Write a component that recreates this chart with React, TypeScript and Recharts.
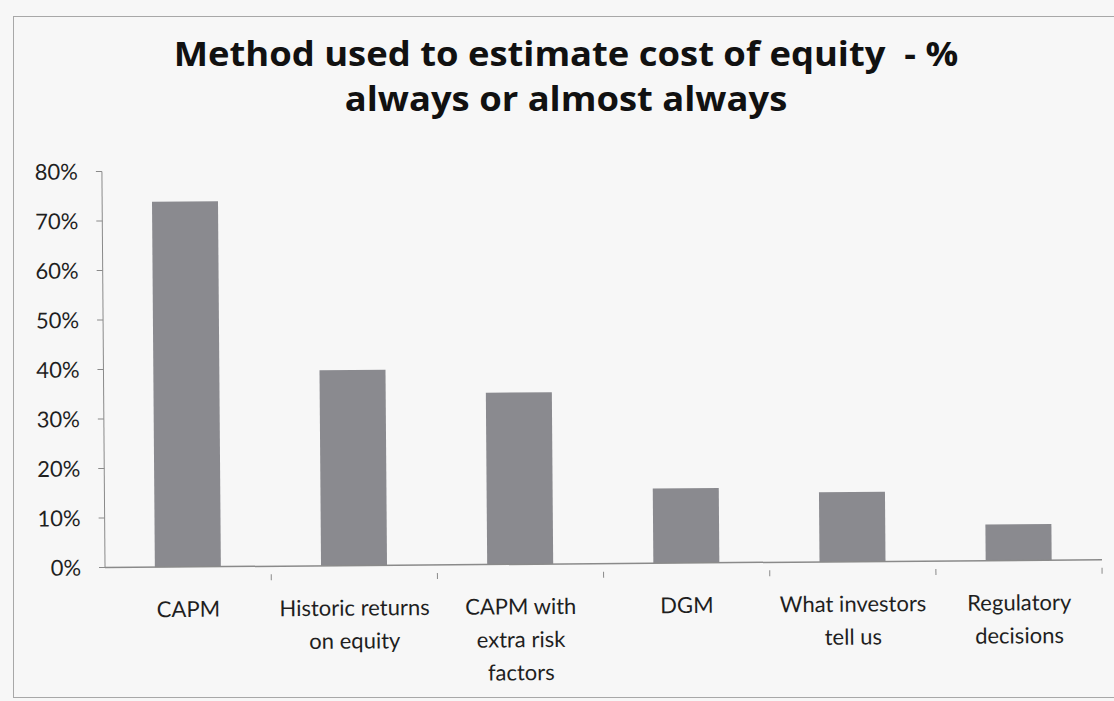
import { BarChart, Bar, XAxis, YAxis } from "recharts";

const INK = "#1f1f1f";
const AXIS_GRAY = "#8a8a8a";
const BAR_GRAY = "#8a8a8f";
const FONT = "Lato, 'Open Sans', sans-serif";

const methods = [
  "CAPM",
  "Historic returns\non equity",
  "CAPM with\nextra risk\nfactors",
  "DGM",
  "What investors\ntell us",
  "Regulatory\ndecisions",
];
const shareAlways = [73.8, 39.5, 34.7, 15.1, 14.1, 7.3];
const yTicks = [0, 10, 20, 30, 40, 50, 60, 70, 80];

const data = methods.map((m, i) => ({ method: m, value: shareAlways[i] }));

function CategoryTick(props: any) {
  const { x, y, payload } = props;
  const lines = String(payload.value).split("\n");
  const half = payload.offset ?? 83;
  return (
    <g>
      <line x1={x + half} y1={y} x2={x + half} y2={y + 6} stroke={AXIS_GRAY} />
      <text x={x} y={y + 42} textAnchor="middle" fill={INK} fontSize={22} fontFamily={FONT}>
        {lines.map((l, i) => (
          <tspan key={i} x={x} dy={i === 0 ? 0 : 33}>
            {l}
          </tspan>
        ))}
      </text>
    </g>
  );
}

export default function App() {
  return (
    <div
      style={{
        position: "absolute",
        left: 0,
        top: 0,
        width: 1114,
        height: 701,
        background: "#f7f7f7",
        overflow: "hidden",
      }}
    >
      <div
        style={{
          position: "absolute",
          left: 13,
          top: 16,
          width: 1120,
          height: 680,
          border: "1px solid #a8a8a8",
          borderRight: "none",
        }}
      />
      <div
        style={{
          position: "absolute",
          left: 166,
          top: 31,
          width: 800,
          textAlign: "center",
          fontFamily: "'Open Sans', sans-serif",
          fontWeight: 700,
          fontSize: 34,
          lineHeight: "45px",
          color: "#111",
          whiteSpace: "nowrap",
          transform: "scaleX(1.07)",
          transformOrigin: "400px 0",
        }}
      >
        Method used to estimate cost of equity&nbsp; - %
        <br />
        always or almost always
      </div>
      <div
        style={{
          position: "absolute",
          left: 0,
          top: 0,
          transform: "rotate(-0.45deg)",
          transformOrigin: "557px 564px",
        }}
      >
        <BarChart
          width={1114}
          height={701}
          data={data}
          margin={{ top: 168, right: 12, bottom: 107, left: 0 }}
          barCategoryGap="30%"
        >
          <YAxis
            width={105}
            domain={[0, 80]}
            ticks={yTicks}
            interval={0}
            tickFormatter={(v) => `${v}%`}
            axisLine={{ stroke: AXIS_GRAY }}
            tickLine={{ stroke: AXIS_GRAY }}
            tickSize={6}
            tickMargin={18}
            tick={{ fill: INK, fontSize: 22, fontFamily: FONT }}
          />
          <XAxis
            dataKey="method"
            interval={0}
            height={30}
            axisLine={{ stroke: AXIS_GRAY, strokeWidth: 1.5 }}
            tickLine={false}
            tick={<CategoryTick />}
          />
          <Bar dataKey="value" fill={BAR_GRAY} isAnimationActive={false} />
        </BarChart>
      </div>
    </div>
  );
}
